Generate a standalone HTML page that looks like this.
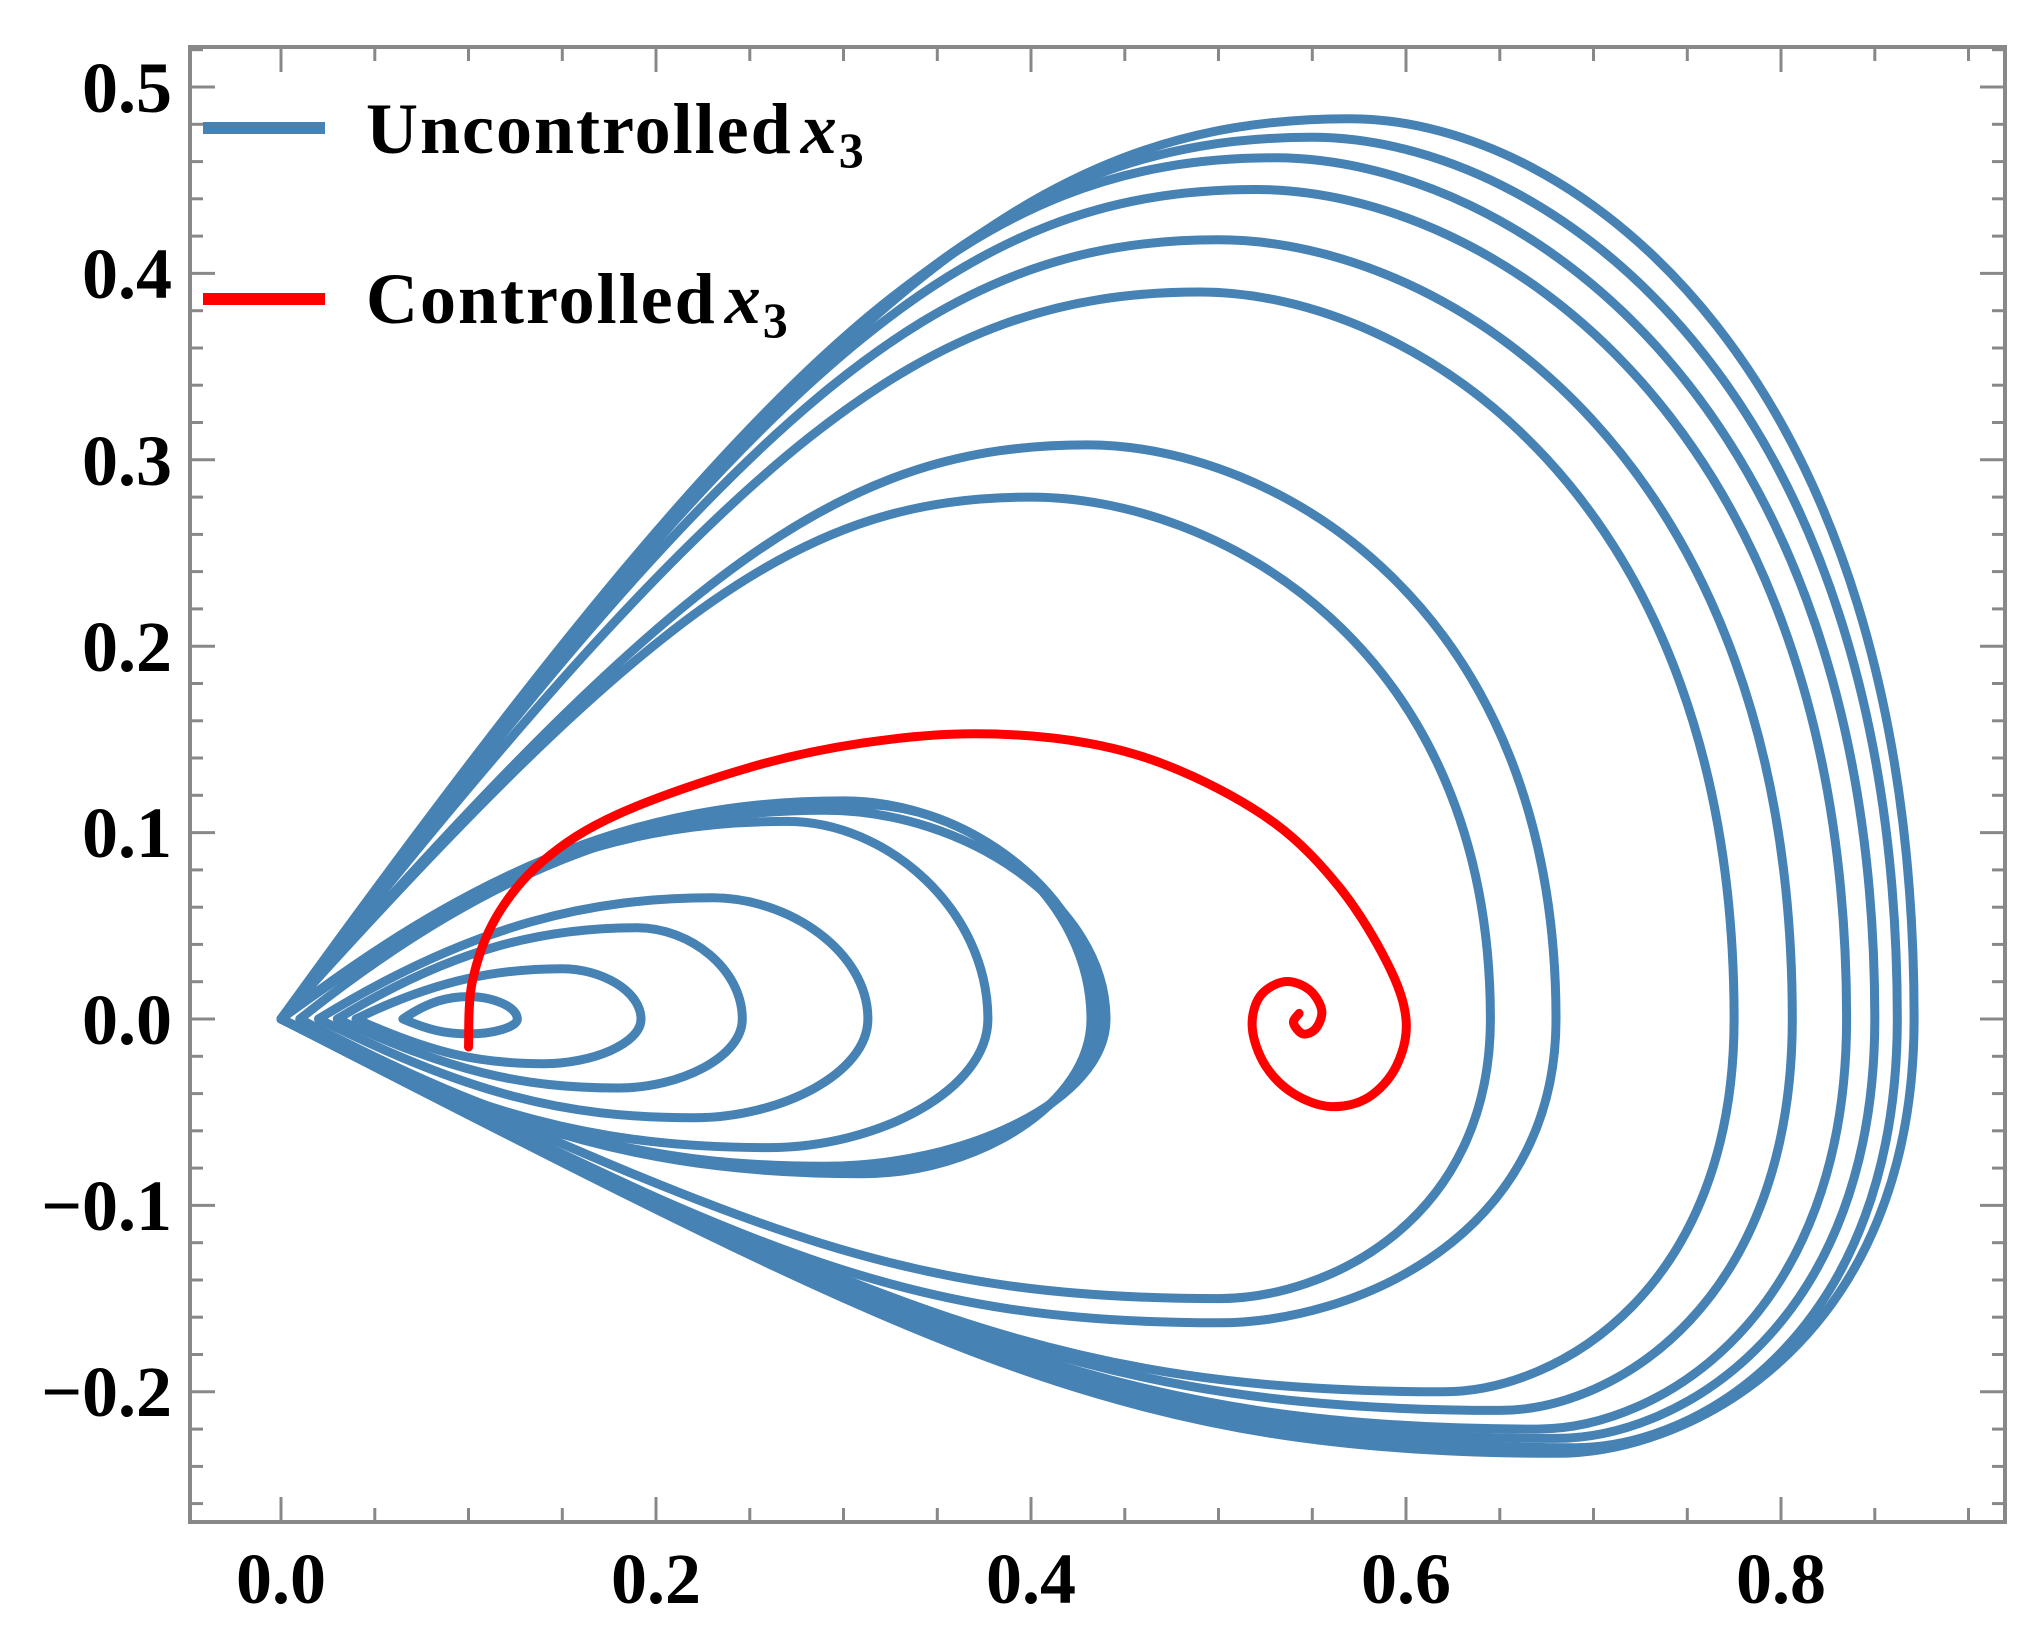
<!DOCTYPE html>
<html><head><meta charset="utf-8"><style>
html,body{margin:0;padding:0;background:#fff;}
svg{display:block;}
text{font-family:"Liberation Serif",serif;font-weight:bold;fill:#000;}
</style></head><body>
<svg id="s" width="2030" height="1626" viewBox="0 0 2030 1626" xmlns="http://www.w3.org/2000/svg">
<rect x="0" y="0" width="2030" height="1626" fill="#fff"/>
<g id="ticks" stroke="#888" stroke-width="3"></g>
<g id="curves" fill="none" stroke="#4682b4" stroke-width="9" stroke-linejoin="round" stroke-linecap="round"></g>
<path id="red" fill="none" stroke="#ff0000" stroke-width="9" stroke-linecap="round" stroke-linejoin="round"/>
<rect x="190" y="47" width="1815" height="1475" fill="none" stroke="#888" stroke-width="4"/>
<g font-size="72" text-anchor="end">
<text x="172" y="112">0.5</text>
<text x="172" y="298">0.4</text>
<text x="172" y="485">0.3</text>
<text x="172" y="671">0.2</text>
<text x="172" y="857">0.1</text>
<text x="172" y="1044">0.0</text>
<text x="172" y="1230">−0.1</text>
<text x="172" y="1416">−0.2</text>
</g>
<g font-size="72" text-anchor="middle">
<text x="281" y="1603">0.0</text>
<text x="656" y="1603">0.2</text>
<text x="1031" y="1603">0.4</text>
<text x="1406" y="1603">0.6</text>
<text x="1781" y="1603">0.8</text>
</g>
<line x1="203" y1="128" x2="325" y2="128" stroke="#4682b4" stroke-width="12"/>
<line x1="203" y1="299" x2="325" y2="299" stroke="#ff0000" stroke-width="12"/>
<text x="366" y="153" font-size="72" letter-spacing="2">Uncontrolled<tspan font-style="italic" dx="8">x</tspan><tspan font-size="50" dy="14">3</tspan></text>
<text x="366" y="323" font-size="72" letter-spacing="2">Controlled<tspan font-style="italic" dx="8">x</tspan><tspan font-size="50" dy="14">3</tspan></text>
</svg>
<script>
(function(){
function X(x){return 281+1875*x;}
function Y(y){return 1019-1864*y;}
var t=document.getElementById("ticks"),h="";
for(var i=0;i<=18;i++){var v=i*0.05,px=X(v).toFixed(1),maj=(i%4==0);var L=maj?25:14;
h+='<line x1="'+px+'" y1="1522" x2="'+px+'" y2="'+(1522-L)+'"/>';
h+='<line x1="'+px+'" y1="47" x2="'+px+'" y2="'+(47+L)+'"/>';}
for(var j=-13;j<=26;j++){var v=j*0.02,py=Y(v).toFixed(1),maj=(j%5==0);var L=maj?25:13;
h+='<line x1="190" y1="'+py+'" x2="'+(190+L)+'" y2="'+py+'"/>';
h+='<line x1="2005" y1="'+py+'" x2="'+(2005-L)+'" y2="'+py+'"/>';}
t.innerHTML=h;
function p(x,y){return X(x).toFixed(1)+","+Y(y).toFixed(1);}
function loop(tx,px,py,rx,bx,by,k,sharp){
 k=k||0.45;
 var a=sharp?0.4:0.5, b=sharp?0.72:0.55;
 var d="M"+p(tx,0);
 d+=" C"+p(tx+k*(px-tx),0.8*py)+" "+p(px-0.3*(px-tx),py)+" "+p(px,py);
 d+=" C"+p(px+a*(rx-px),py)+" "+p(rx,b*py)+" "+p(rx,0);
 d+=" C"+p(rx,b*by)+" "+p(bx+a*(rx-bx),by)+" "+p(bx,by);
 d+=" C"+p(bx-0.35*(bx-tx),by)+" "+p(tx+k*(bx-tx),0.75*by)+" "+p(tx,0);
 return '<path d="'+d+'"/>';
}
var c="";
var big=[[0.57,0.483,0.871,0.68,-0.233],[0.55,0.473,0.862,0.69,-0.23],[0.53,0.462,0.85,0.68,-0.225],[0.52,0.445,0.835,0.67,-0.22],[0.5,0.418,0.806,0.65,-0.21],[0.49,0.39,0.775,0.62,-0.2],[0.43,0.308,0.68,0.5,-0.163],[0.40,0.28,0.645,0.5,-0.15]];
big.forEach(function(b){c+=loop(0,b[0],b[1],b[2],b[3],b[4],0.5,true);});
var sm=[[0.065,0.1,0.012,0.126,0.1,-0.008],[0.04,0.15,0.027,0.192,0.14,-0.024],[0.03,0.19,0.049,0.246,0.18,-0.037],[0.02,0.23,0.065,0.313,0.22,-0.053],[0.0,0.27,0.106,0.377,0.26,-0.069],[0.0,0.30,0.117,0.436,0.30,-0.081],[0.0,0.31,0.115,0.432,0.31,-0.083],[0.01,0.29,0.112,0.44,0.29,-0.079]];
sm.forEach(function(b){c+=loop(b[0],b[1],b[2],b[3],b[4],b[5],0.4,false);});
document.getElementById("curves").innerHTML=c;
var r=[[0.1,-0.015],[0.102,0.02],[0.115,0.055],[0.14,0.085],[0.18,0.11],[0.25,0.135],[0.31,0.148],[0.37,0.153],[0.43,0.148],[0.48,0.133],[0.53,0.105],[0.565,0.07],[0.59,0.03],[0.6,0.0],[0.595,-0.025],[0.58,-0.042],[0.56,-0.047],[0.54,-0.04],[0.525,-0.025],[0.518,-0.005],[0.522,0.012],[0.535,0.02],[0.548,0.016],[0.555,0.005],[0.552,-0.005],[0.545,-0.008],[0.54,-0.002],[0.543,0.003]];
var P=r.map(function(q){return [X(q[0]),Y(q[1])];});
var d="M"+P[0][0].toFixed(1)+","+P[0][1].toFixed(1);
for(var q=0;q<P.length-1;q++){
 var p0=P[q>0?q-1:q],p1=P[q],p2=P[q+1],p3=P[q+2<P.length?q+2:q+1];
 var c1=[p1[0]+(p2[0]-p0[0])/6,p1[1]+(p2[1]-p0[1])/6];
 var c2=[p2[0]-(p3[0]-p1[0])/6,p2[1]-(p3[1]-p1[1])/6];
 d+=" C"+c1[0].toFixed(1)+","+c1[1].toFixed(1)+" "+c2[0].toFixed(1)+","+c2[1].toFixed(1)+" "+p2[0].toFixed(1)+","+p2[1].toFixed(1);
}
document.getElementById("red").setAttribute("d",d);
})();
</script>
</body></html>
